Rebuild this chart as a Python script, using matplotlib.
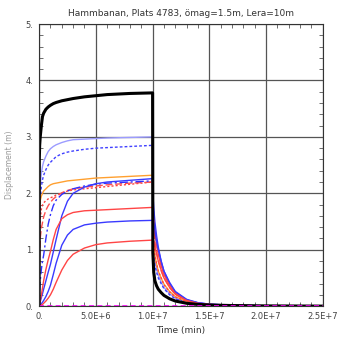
import numpy as np
import matplotlib.pyplot as plt
from matplotlib.ticker import MultipleLocator, FuncFormatter

# time points (min): loading up to 1E7, then unloading
t = [0, 2e4, 5e4, 1e5, 2e5, 3e5, 4e5, 6e5, 8e5, 1e6, 1.25e6, 1.5e6, 2e6, 2.5e6, 3e6,
     4e6, 5e6, 6e6, 8e6, 1e7,
     1.002e7, 1.01e7, 1.02e7, 1.035e7, 1.05e7, 1.075e7, 1.1e7, 1.15e7, 1.2e7, 1.3e7,
     1.4e7, 1.5e7, 1.7e7, 2e7, 2.5e7]

# displacement (m)
black    = [0, 2.6, 2.85, 3.0, 3.2, 3.36, 3.42, 3.49, 3.53, 3.56, 3.59, 3.61, 3.64, 3.66, 3.68,
            3.71, 3.73, 3.75, 3.77, 3.78,
            0.95, 0.6, 0.45, 0.36, 0.3, 0.24, 0.19, 0.13, 0.09, 0.05, 0.03, 0.02, 0.01, 0.004, 0.0]
lblue    = [0, 1.5, 1.9, 2.15, 2.35, 2.48, 2.56, 2.66, 2.74, 2.79, 2.83, 2.86, 2.9, 2.93, 2.95,
            2.96, 2.97, 2.98, 2.99, 3.0,
            1.5, 1.05, 0.8, 0.65, 0.55, 0.43, 0.33, 0.22, 0.14, 0.07, 0.04, 0.025, 0.01, 0.004, 0.0]
bdotted  = [0, 1.2, 1.6, 1.9, 2.12, 2.24, 2.32, 2.42, 2.5, 2.55, 2.6, 2.65, 2.7, 2.73, 2.75,
            2.78, 2.8, 2.81, 2.83, 2.85,
            1.3, 0.95, 0.72, 0.6, 0.5, 0.4, 0.31, 0.2, 0.13, 0.06, 0.035, 0.02, 0.01, 0.004, 0.0]
orange   = [0, 1.5, 1.75, 1.87, 1.95, 2.0, 2.04, 2.08, 2.12, 2.15, 2.17, 2.18, 2.2, 2.22, 2.23,
            2.25, 2.27, 2.28, 2.3, 2.32,
            1.4, 1.1, 0.9, 0.75, 0.62, 0.5, 0.39, 0.26, 0.17, 0.08, 0.045, 0.025, 0.012, 0.005, 0.0]
rdotted  = [0, 1.0, 1.35, 1.55, 1.72, 1.79, 1.83, 1.87, 1.9, 1.92, 1.94, 1.97, 2.0, 2.04, 2.06,
            2.08, 2.1, 2.12, 2.16, 2.2,
            1.5, 1.15, 0.9, 0.75, 0.62, 0.5, 0.38, 0.25, 0.16, 0.08, 0.04, 0.025, 0.01, 0.005, 0.0]
rdashed  = [0, 0.6, 0.95, 1.2, 1.38, 1.48, 1.58, 1.7, 1.78, 1.84, 1.9, 1.94, 2.01, 2.05, 2.08,
            2.11, 2.13, 2.15, 2.18, 2.2,
            1.7, 1.4, 1.15, 0.95, 0.8, 0.63, 0.5, 0.33, 0.21, 0.1, 0.05, 0.03, 0.012, 0.005, 0.0]
bdashdot = [0, 0.15, 0.3, 0.45, 0.65, 0.8, 0.9, 1.2, 1.45, 1.62, 1.78, 1.88, 1.98, 2.04, 2.08,
            2.13, 2.16, 2.18, 2.2, 2.22,
            1.85, 1.6, 1.35, 1.15, 0.95, 0.75, 0.58, 0.38, 0.24, 0.11, 0.055, 0.03, 0.013, 0.005, 0.0]
bupper   = [0, 0.02, 0.05, 0.08, 0.15, 0.22, 0.3, 0.45, 0.6, 0.74, 0.96, 1.18, 1.6, 1.86, 2.0,
            2.11, 2.17, 2.2, 2.23, 2.26,
            2.0, 1.75, 1.5, 1.25, 1.05, 0.8, 0.62, 0.4, 0.25, 0.11, 0.06, 0.035, 0.015, 0.006, 0.0]
rupper   = [0, 0.02, 0.05, 0.1, 0.2, 0.32, 0.45, 0.65, 0.82, 0.97, 1.18, 1.36, 1.55, 1.62, 1.66,
            1.69, 1.70, 1.71, 1.73, 1.75,
            1.65, 1.5, 1.3, 1.1, 0.92, 0.72, 0.56, 0.37, 0.23, 0.1, 0.05, 0.03, 0.012, 0.005, 0.0]
blower   = [0, 0, 0.01, 0.02, 0.04, 0.07, 0.1, 0.17, 0.26, 0.37, 0.56, 0.76, 1.08, 1.26, 1.36,
            1.44, 1.47, 1.49, 1.51, 1.52,
            1.51, 1.48, 1.35, 1.15, 1.0, 0.8, 0.62, 0.42, 0.26, 0.12, 0.06, 0.035, 0.014, 0.006, 0.0]
rlower   = [0, 0, 0, 0.01, 0.02, 0.03, 0.05, 0.09, 0.14, 0.2, 0.3, 0.42, 0.64, 0.81, 0.92,
            1.03, 1.09, 1.12, 1.15, 1.17,
            1.16, 1.15, 1.05, 0.93, 0.8, 0.64, 0.5, 0.33, 0.21, 0.1, 0.05, 0.03, 0.012, 0.005, 0.0]
magenta  = [0] * len(t)

plt.figure(figsize=(3.37, 3.39), dpi=100)
ax = plt.axes([0.116, 0.097, 0.842, 0.832])

ax.plot(t, lblue, color='#9c9cff', lw=1.0)
ax.plot(t, bdotted, color='#4040ff', lw=1.0, ls=(0, (2, 1.5)))
ax.plot(t, orange, color='#ffa030', lw=1.0)
ax.plot(t, rdotted, color='#ff4040', lw=1.0, ls=(0, (1.5, 1.5)))
ax.plot(t, rdashed, color='#ff5050', lw=1.0, ls=(0, (5, 2)))
ax.plot(t, bdashdot, color='#3030ff', lw=1.0, ls=(0, (6, 2, 1.5, 2)))
ax.plot(t, bupper, color='#3a3aff', lw=1.0)
ax.plot(t, rupper, color='#ff4545', lw=1.0)
ax.plot(t, blower, color='#3a3aff', lw=1.0)
ax.plot(t, rlower, color='#ff4545', lw=1.0)
ax.plot(t, black, color='black', lw=2.2)
ax.plot(t, magenta, color='#ff00ff', lw=1.2, ls=(0, (3, 2)))

ax.set_xlim(0, 2.5e7)
ax.set_ylim(0, 5)
ax.xaxis.set_major_locator(MultipleLocator(5e6))
ax.xaxis.set_minor_locator(MultipleLocator(1e6))
ax.yaxis.set_major_locator(MultipleLocator(1))
ax.yaxis.set_minor_locator(MultipleLocator(0.2))

def xfmt(v, pos):
    if v == 0:
        return '0.'
    s = '%.1E' % v
    return s.replace('E+0', 'E+')

ax.xaxis.set_major_formatter(FuncFormatter(xfmt))
ax.yaxis.set_major_formatter(FuncFormatter(lambda v, p: '%d.' % v))

ax.tick_params(which='both', direction='in', top=True, right=True,
               labelsize=6, labelcolor='#444444', pad=4)
ax.tick_params(which='major', length=0)
ax.tick_params(which='minor', length=3, width=0.6, color='#555555')
ax.grid(which='major', color='#555555', lw=0.9)
for s in ax.spines.values():
    s.set_color('#333333')
    s.set_linewidth(0.8)

ax.set_title('Hammbanan, Plats 4783, ömag=1.5m, Lera=10m', fontsize=6.5,
             color='#333333', pad=6)
ax.set_xlabel('Time (min)', fontsize=6.5, color='#333333', labelpad=4)
ax.set_ylabel('Displacement (m)', fontsize=5.5, color='#999999', labelpad=8)

plt.savefig('out.png', dpi=100)
